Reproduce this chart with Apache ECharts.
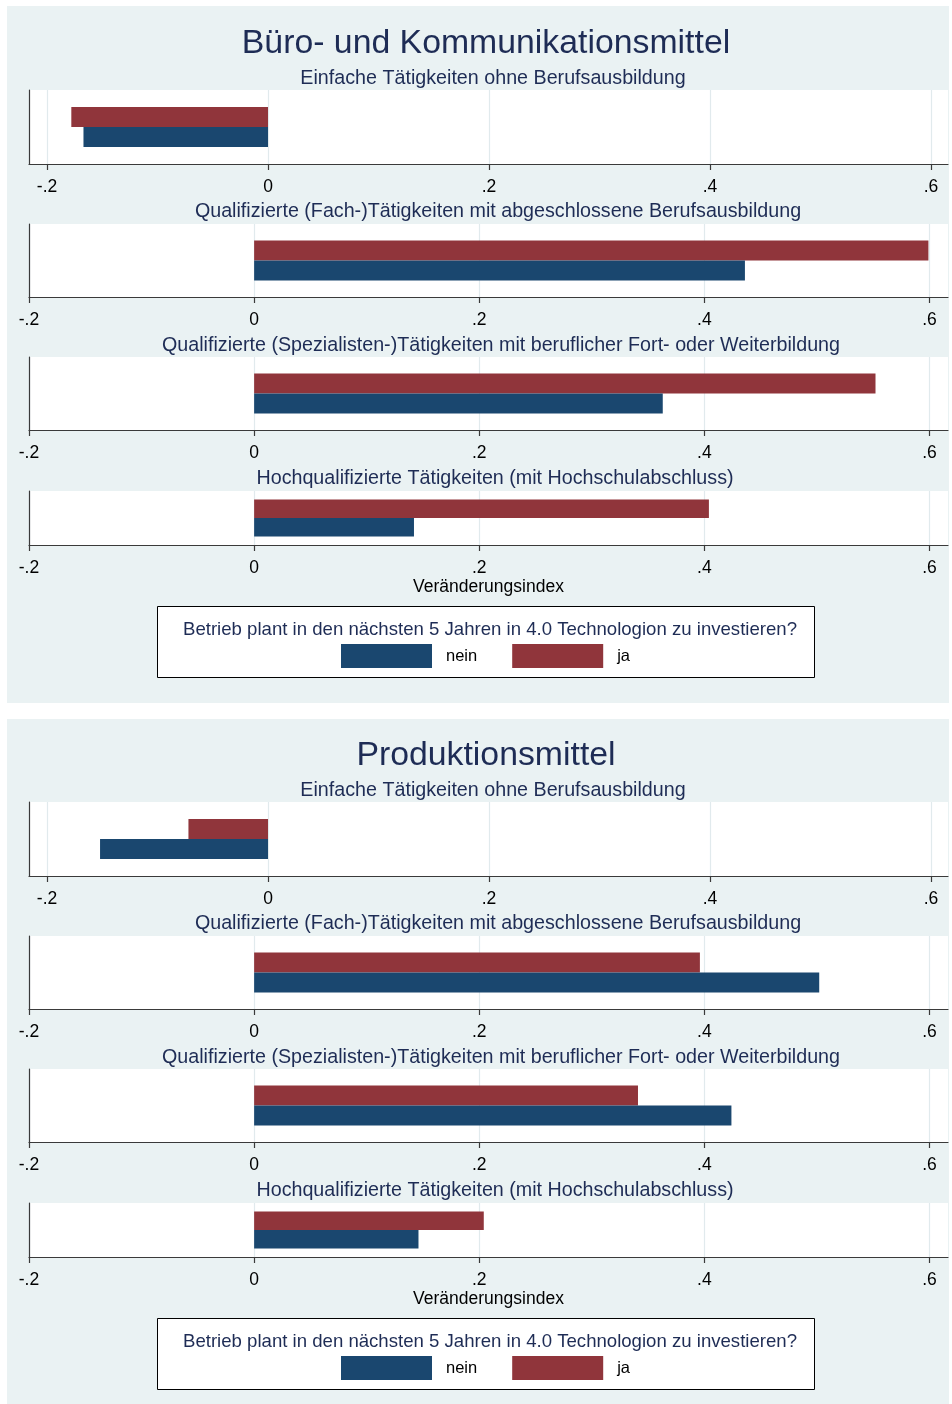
<!DOCTYPE html>
<html><head><meta charset="utf-8">
<script src="https://cdn.jsdelivr.net/npm/echarts@6/dist/echarts.min.js"></script>
<style>html,body{margin:0;padding:0;background:#fff}#c{width:952px;height:1404px}</style>
</head><body><div id="c"></div><script>
// ---- data ----
const panelTitles = ["Büro- und Kommunikationsmittel", "Produktionsmittel"];
const subTitles = [
  "Einfache Tätigkeiten ohne Berufsausbildung",
  "Qualifizierte (Fach-)Tätigkeiten mit abgeschlossene Berufsausbildung",
  "Qualifizierte (Spezialisten-)Tätigkeiten mit beruflicher Fort- oder Weiterbildung",
  "Hochqualifizierte Tätigkeiten (mit Hochschulabschluss)"
];
const seriesNames = ["nein", "ja"];
const bueroNein = [-0.167, 0.436, 0.363, 0.142];
const bueroJa   = [-0.178, 0.599, 0.552, 0.404];
const prodNein  = [-0.152, 0.502, 0.424, 0.146];
const prodJa    = [-0.072, 0.396, 0.341, 0.204];
const tickValues = [-0.2, 0, 0.2, 0.4, 0.6];
const axisTitle = "Veränderungsindex";
const legendTitle = "Betrieb plant in den nächsten 5 Jahren in 4.0 Technologion zu investieren?";

// ---- layout / style ----
const FONT = '"Liberation Sans", Arial, sans-serif';
const NAVY = '#1A476F', MAROON = '#90353B', TITLE = '#1E2C55', BG = '#EAF2F3';
const panelBgTop = [6, 719];
const panelOff = [0, 712];
const subTitleY = [79, 212, 346, 479];
const subTitleX = [493, 498, 501, 495];
const gridTop = [90, 224, 357, 491];
const gridH = [74, 73, 73, 54];
const barW = [20, 20, 20, 18.5];
const axMin = [-0.2163, -0.2, -0.2, -0.2];
const axMax = [0.6154, 0.6164, 0.6164, 0.6164];
const panelNein = [bueroNein, prodNein];
const panelJa = [bueroJa, prodJa];

function fmt(v) {
  if (Math.abs(v) < 1e-9) return '0';
  const s = Math.abs(v).toFixed(1).replace(/^0/, '');
  return (v < 0 ? '-' : '') + s;
}

const grids = [], xAxes = [], yAxes = [], series = [], graphics = [], legends = [];
for (let p = 0; p < 2; p++) {
  const off = panelOff[p];
  graphics.push({type: 'rect', z: -100, shape: {x: 7, y: panelBgTop[p], width: 942, height: 697}, style: {fill: BG}});
  graphics.push({type: 'text', z: 10, x: 486, y: 44 + off, style: {text: panelTitles[p], fill: TITLE, font: '33.8px ' + FONT, align: 'center', verticalAlign: 'middle'}});
  graphics.push({type: 'rect', z: -50, shape: {x: 157.5, y: 606.5 + off, width: 657, height: 71}, style: {fill: '#fff', stroke: '#000', lineWidth: 1}});
  graphics.push({type: 'text', z: 10, x: 490, y: 629.5 + off, style: {text: legendTitle, fill: TITLE, font: '18.6px ' + FONT, align: 'center', verticalAlign: 'middle'}});
  legends.push({
    data: seriesNames.slice(), left: 341, top: 644 + off, itemWidth: 91, itemHeight: 24, itemGap: 35,
    icon: 'rect', selectedMode: false, padding: 0,
    textStyle: {fontSize: 16.5, color: '#000', fontFamily: FONT, padding: [3, 0, 0, 9]}
  });
  for (let i = 0; i < 4; i++) {
    const k = p * 4 + i;
    graphics.push({type: 'text', z: 10, x: subTitleX[i], y: subTitleY[i] + off, style: {text: subTitles[i], fill: TITLE, font: '19.7px ' + FONT, align: 'center', verticalAlign: 'middle'}});
    grids.push({left: 29, top: gridTop[i] + off, width: 919, height: gridH[i], show: true, backgroundColor: '#fff', borderWidth: 0});
    xAxes.push({
      gridIndex: k, type: 'value', min: axMin[i], max: axMax[i],
      axisLine: {show: true, onZero: false, lineStyle: {color: '#3a3a3a', width: 1.2}},
      axisTick: {show: true, length: 6, customValues: tickValues, lineStyle: {color: '#3a3a3a', width: 1.2}},
      axisLabel: {customValues: tickValues, formatter: fmt, fontSize: 17.5, color: '#000', margin: 14, fontFamily: FONT},
      splitLine: {show: true, lineStyle: {color: '#E1EAED', width: 1.2}},
      name: i === 3 ? axisTitle : '', nameLocation: 'middle', nameGap: 32,
      nameTextStyle: {fontSize: 17.5, color: '#000', fontFamily: FONT}
    });
    yAxes.push({
      gridIndex: k, type: 'category', data: [''],
      axisLine: {show: true, onZero: false, lineStyle: {color: '#3a3a3a', width: 1.2}},
      axisTick: {show: false}, axisLabel: {show: false}, splitLine: {show: false}
    });
    series.push({name: 'ja', type: 'bar', xAxisIndex: k, yAxisIndex: k, data: [panelJa[p][i]], barWidth: barW[i], barGap: '0%', itemStyle: {color: MAROON}, silent: true});
    series.push({name: 'nein', type: 'bar', xAxisIndex: k, yAxisIndex: k, data: [panelNein[p][i]], barWidth: barW[i], barGap: '0%', itemStyle: {color: NAVY}, silent: true});
  }
}

const chart = echarts.init(document.getElementById('c'), null, {renderer: 'canvas'});
chart.setOption({
  animation: false,
  backgroundColor: '#fff',
  grid: grids, xAxis: xAxes, yAxis: yAxes, series: series,
  legend: legends, graphic: graphics
});
</script></body></html>
